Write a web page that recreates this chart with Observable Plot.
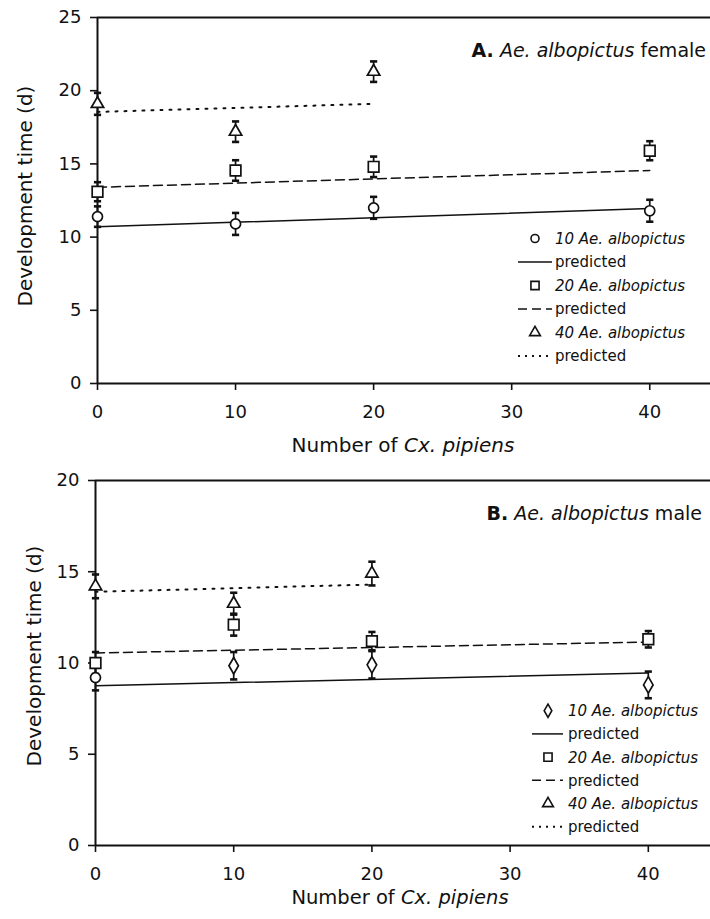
<!DOCTYPE html>
<html><head><meta charset="utf-8">
<script src="https://cdn.jsdelivr.net/npm/d3@7"></script>
<script src="https://cdn.jsdelivr.net/npm/@observablehq/plot@0.6"></script>
<style>
body{margin:0;background:#fff;}
#chart{width:710px;position:relative;}
#chart svg{display:block;}
</style></head><body><div id="chart"></div>
<script>
// ---------- data ----------
const xTicks = [0, 10, 20, 30, 40];
const yTicksA = [0, 5, 10, 15, 20, 25];
const yTicksB = [0, 5, 10, 15, 20];
const xCx = [0, 10, 20, 40];       // number of Cx. pipiens
const xCx40 = [0, 10, 20];
const predX = [0, 40];
const predX40 = [0, 20];

// Panel A: female
const a10Mean = [11.4, 10.9, 12.0, 11.8];
const a10Err  = [0.7, 0.75, 0.75, 0.75];
const a20Mean = [13.1, 14.55, 14.8, 15.9];
const a20Err  = [0.65, 0.7, 0.7, 0.65];
const a40Mean = [19.1, 17.2, 21.3];
const a40Err  = [0.75, 0.7, 0.7];
const a10Pred = [10.7, 11.95];
const a20Pred = [13.4, 14.55];
const a40Pred = [18.55, 19.1];

// Panel B: male
const b10Mean = [9.2, 9.85, 9.9, 8.8];
const b10Err  = [0.7, 0.75, 0.75, 0.73];
const b20Mean = [10.0, 12.1, 11.2, 11.3];
const b20Err  = [0.6, 0.6, 0.5, 0.45];
const b40Mean = [14.2, 13.25, 14.9];
const b40Err  = [0.65, 0.6, 0.65];
const b10Pred = [8.75, 9.45];
const b20Pred = [10.55, 11.15];
const b40Pred = [13.9, 14.3];

const legendLabels = ["10 Ae. albopictus", "predicted", "20 Ae. albopictus", "predicted", "40 Ae. albopictus", "predicted"];
const xLabelMain = "Number of ";
const xLabelItalic = "Cx. pipiens";
const yLabel = "Development time (d)";

// ---------- helpers ----------
const FONT = "DejaVu Sans";
const INK = "#111";
const capSymbol = {
  draw(ctx, size) {
    const w = Math.sqrt(size / Math.PI);
    ctx.moveTo(-w, 0); ctx.lineTo(w, 0);
  }
};
const pts = (xs, ms, es, sym) => xs.map((x, i) => ({x, y: ms[i], e: es[i], s: Array.isArray(sym) ? sym[i] : sym}));
const line = (xs, ys) => xs.map((x, i) => ({x, y: ys[i]}));

function seriesMarks(data) {
  return [
    Plot.ruleX(data, {x: "x", y1: d => d.y - d.e, y2: d => d.y + d.e, stroke: INK, strokeWidth: 1.7}),
    Plot.dot(data, {x: "x", y: d => d.y - d.e, symbol: capSymbol, r: 3.6, fill: "none", stroke: INK, strokeWidth: 2.6}),
    Plot.dot(data, {x: "x", y: d => d.y + d.e, symbol: capSymbol, r: 3.6, fill: "none", stroke: INK, strokeWidth: 2.6}),
  ];
}
function markerMarks(data, r) {
  return Plot.dot(data, {x: "x", y: "y", symbol: "s", r, fill: "white", stroke: INK, strokeWidth: 1.7});
}

function panel(cfg) {
  const s10 = pts(xCx, cfg.m10, cfg.e10, cfg.sym10);
  const s20 = pts(xCx, cfg.m20, cfg.e20, "square");
  const s40 = pts(xCx40, cfg.m40, cfg.e40, "triangle");
  const svg = Plot.plot({
    width: 710, height: cfg.height,
    marginLeft: cfg.ml, marginRight: 0, marginTop: cfg.mt, marginBottom: cfg.height - cfg.y0,
    x: {domain: [0, cfg.xmax]},
    y: {domain: [0, cfg.ymax]},
    style: {fontFamily: FONT, color: INK, background: "#fff", overflow: "visible"},
    marks: [
      Plot.axisX({ticks: xTicks, tickSize: 7, tickPadding: 15, fontSize: 18, label: null, strokeWidth: 1.6, tickFormat: d => String(d)}),
      Plot.axisY({ticks: cfg.yTicks, tickSize: 7, tickPadding: 9, fontSize: 18, label: null, strokeWidth: 1.6, tickFormat: d => String(d)}),
      Plot.ruleY([0, cfg.ymax], {stroke: INK, strokeWidth: 2}),
      Plot.ruleX([0], {stroke: INK, strokeWidth: 2}),
      Plot.line(line(predX, cfg.p10), {x: "x", y: "y", stroke: INK, strokeWidth: 1.5}),
      Plot.line(line(predX, cfg.p20), {x: "x", y: "y", stroke: INK, strokeWidth: 1.5, strokeDasharray: "9,5"}),
      Plot.line(line(predX40, cfg.p40), {x: "x", y: "y", stroke: INK, strokeWidth: 2, strokeDasharray: "2,7"}),
      ...seriesMarks(s10), ...seriesMarks(s20), ...seriesMarks(s40),
      markerMarks(s10, 5), markerMarks(s20, 6), markerMarks(s40, 4.6)
    ]
  });
  const g = d3.select(svg);
  // title
  const t = g.append("text").attr("x", cfg.titleX).attr("y", cfg.titleY).attr("text-anchor", "end")
    .attr("font-family", FONT).attr("font-size", 19).attr("fill", INK).attr("xml:space", "preserve");
  t.append("tspan").attr("font-weight", "bold").text(cfg.titleLetter);
  t.append("tspan").text(" ");
  t.append("tspan").attr("font-style", "italic").text("Ae. albopictus");
  t.append("tspan").text(" " + cfg.titleSex);
  // x label
  const xl = g.append("text").attr("x", cfg.xlX).attr("y", cfg.xlY).attr("text-anchor", "middle")
    .attr("font-family", FONT).attr("font-size", cfg.xlSize).attr("fill", INK).attr("xml:space", "preserve");
  xl.append("tspan").text(xLabelMain);
  xl.append("tspan").attr("font-style", "italic").text(xLabelItalic);
  // y label
  g.append("text").attr("transform", `translate(${cfg.ylX},${cfg.ylY}) rotate(-90)`).attr("text-anchor", "middle")
    .attr("dy", "0.35em").attr("font-family", FONT).attr("font-size", 20).attr("fill", INK).text(yLabel);
  // legend
  const lg = g.append("g").attr("font-family", FONT).attr("font-size", 15).attr("fill", INK).attr("text-anchor", "start");
  const syms = [cfg.legendSym10, null, d3.symbolSquare, null, d3.symbolTriangle, null];
  const symR = [4, 0, 4.6, 0, 4, 0];
  const dashes = [null, null, null, "9,5", null, "2,5"];
  legendLabels.forEach((lab, i) => {
    const y = cfg.legY + i * cfg.legStep;
    if (syms[i]) {
      lg.append("path").attr("d", d3.symbol(syms[i], Math.PI * symR[i] * symR[i])())
        .attr("transform", `translate(${cfg.legSymX},${y})`).attr("fill", "white").attr("stroke", INK).attr("stroke-width", 1.6);
    } else {
      lg.append("line").attr("x1", cfg.legLineX1).attr("x2", cfg.legLineX2).attr("y1", y).attr("y2", y)
        .attr("stroke", INK).attr("stroke-width", i === 5 ? 2 : 1.5).attr("stroke-dasharray", dashes[i]);
    }
    lg.append("text").attr("x", cfg.legTextX).attr("y", y).attr("dy", "0.36em").attr("text-anchor", "start")
      .attr("font-style", syms[i] ? "italic" : null).text(lab);
  });
  return svg;
}

const root = document.getElementById("chart");
root.append(panel({
  height: 460, ml: 97, mt: 17, y0: 383, xmax: 44.4, ymax: 25, yTicks: yTicksA,
  m10: a10Mean, e10: a10Err, m20: a20Mean, e20: a20Err, m40: a40Mean, e40: a40Err,
  p10: a10Pred, p20: a20Pred, p40: a40Pred, sym10: "circle",
  titleLetter: "A.", titleSex: "female", titleX: 706, titleY: 57,
  xlX: 403, xlY: 452, xlSize: 20, ylX: 25, ylY: 196,
  legendSym10: d3.symbolCircle, legY: 238.5, legStep: 23.5, legSymX: 535, legTextX: 555, legLineX1: 518, legLineX2: 552
}));
root.append(panel({
  height: 459, ml: 95, mt: 20, y0: 385, xmax: 44.5, ymax: 20, yTicks: yTicksB,
  m10: b10Mean, e10: b10Err, m20: b20Mean, e20: b20Err, m40: b40Mean, e40: b40Err,
  p10: b10Pred, p20: b20Pred, p40: b40Pred, sym10: ["circle", "diamond", "diamond", "diamond"],
  titleLetter: "B.", titleSex: "male", titleX: 702, titleY: 60,
  xlX: 400, xlY: 444, xlSize: 19.5, ylX: 34, ylY: 196,
  legendSym10: d3.symbolDiamond, legY: 250.7, legStep: 23.2, legSymX: 548, legTextX: 568, legLineX1: 532, legLineX2: 563
}));
</script></body></html>
